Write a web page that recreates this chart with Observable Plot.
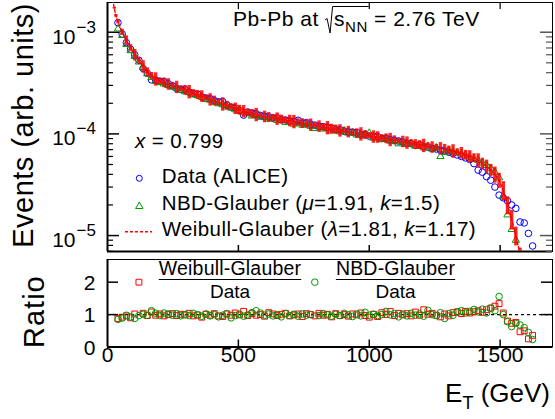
<!DOCTYPE html>
<html><head><meta charset="utf-8">
<script src="https://cdn.jsdelivr.net/npm/d3@7"></script>
<script src="https://cdn.jsdelivr.net/npm/@observablehq/plot@0.6"></script>
<style>
body{margin:0;background:#fff;}
#chart{position:relative;width:555px;height:419px;overflow:hidden;font-family:"Liberation Sans",Arial,sans-serif;}
#chart svg{position:absolute;left:0;}
</style></head><body><div id="chart"></div>
<script>
// ---------- data ----------
const ET = [40,56,72,88,104,120,136,152,168,184,200,216,232,248,264,280,296,312,328,344,360,376,392,408,424,440,456,472,488,504,520,536,552,568,584,600,616,632,648,664,680,696,712,728,744,760,776,792,808,824,840,856,872,888,904,920,936,952,968,984,1000,1016,1032,1048,1064,1080,1096,1112,1128,1144,1160,1176,1192,1208,1224,1240,1256,1272,1288,1304,1320,1336,1352,1368,1384,1400,1416,1432,1448,1464,1480,1496,1512,1528,1544,1560,1576,1592,1608,1624];
const dataALICE = [1.24e-3,9.6e-4,7.9e-4,6.8e-4,6.0e-4,5.3e-4,4.4e-4,3.95e-4,3.40e-4,3.38e-4,3.30e-4,3.26e-4,3.12e-4,2.95e-4,2.80e-4,2.74e-4,2.73e-4,2.58e-4,2.50e-4,2.46e-4,2.31e-4,2.25e-4,2.22e-4,2.13e-4,2.07e-4,2.08e-4,1.93e-4,1.83e-4,1.80e-4,1.70e-4,1.53e-4,1.64e-4,1.60e-4,1.58e-4,1.52e-4,1.49e-4,1.47e-4,1.43e-4,1.44e-4,1.38e-4,1.37e-4,1.34e-4,1.33e-4,1.36e-4,1.28e-4,1.29e-4,1.24e-4,1.22e-4,1.19e-4,1.18e-4,1.16e-4,1.14e-4,1.10e-4,1.10e-4,1.06e-4,1.05e-4,1.04e-4,1.03e-4,9.8e-5,9.9e-5,9.5e-5,9.5e-5,9.4e-5,9.0e-5,9.1e-5,8.8e-5,8.6e-5,8.5e-5,8.3e-5,8.1e-5,8.0e-5,7.7e-5,7.8e-5,7.5e-5,7.4e-5,7.2e-5,7.1e-5,6.9e-5,6.8e-5,6.6e-5,6.4e-5,6.2e-5,6.0e-5,5.8e-5,5.6e-5,5.1e-5,4.4e-5,4.2e-5,3.8e-5,3.5e-5,3.0e-5,2.5e-5,2.35e-5,2.2e-5,2.0e-5,1.85e-5,1.36e-5,1.33e-5,1.05e-5,7.9e-6];
const nbdGlauber = [1.08e-3,9.3e-4,7.6e-4,6.6e-4,5.8e-4,5.1e-4,4.5e-4,3.9e-4,3.6e-4,3.3e-4,3.2e-4,3.1e-4,3.0e-4,2.9e-4,2.82e-4,2.70e-4,2.60e-4,2.55e-4,2.42e-4,2.38e-4,2.30e-4,2.18e-4,2.15e-4,2.05e-4,1.98e-4,1.94e-4,1.85e-4,1.80e-4,1.73e-4,1.70e-4,1.62e-4,1.58e-4,1.50e-4,1.52e-4,1.46e-4,1.45e-4,1.40e-4,1.42e-4,1.36e-4,1.38e-4,1.30e-4,1.32e-4,1.25e-4,1.28e-4,1.22e-4,1.25e-4,1.19e-4,1.13e-4,1.17e-4,1.12e-4,1.13e-4,1.07e-4,1.10e-4,1.05e-4,1.08e-4,1.02e-4,1.03e-4,9.8e-5,9.9e-5,9.6e-5,1.02e-4,9.1e-5,9.2e-5,8.8e-5,8.9e-5,8.5e-5,8.6e-5,8.0e-5,8.3e-5,7.9e-5,8.1e-5,7.6e-5,7.8e-5,7.3e-5,7.6e-5,7.1e-5,7.3e-5,6.0e-5,6.6e-5,6.9e-5,6.7e-5,6.5e-5,6.4e-5,6.2e-5,5.9e-5,5.7e-5,5.5e-5,5.2e-5,4.9e-5,4.6e-5,4.2e-5,3.7e-5,2.4e-5,1.6e-5,1.15e-5,9.0e-6,6.5e-6];
const weibullET = [20,26,32,40,56,72,88,104,120,136,152,168,184,200,216,232,248,264,280,296,312,328,344,360,376,392,408,424,440,456,472,488,504,520,536,552,568,584,600,616,632,648,664,680,696,712,728,744,760,776,792,808,824,840,856,872,888,904,920,936,952,968,984,1000,1016,1032,1048,1064,1080,1096,1112,1128,1144,1160,1176,1192,1208,1224,1240,1256,1272,1288,1304,1320,1336,1352,1368,1384,1400,1416,1432,1448,1464,1480,1496,1512,1528,1544,1560,1576,1584];
const weibullGlauber = [2.1e-3,1.72e-3,1.45e-3,1.27e-3,1.0e-3,8.3e-4,7.0e-4,6.0e-4,5.25e-4,4.6e-4,4.05e-4,3.72e-4,3.47e-4,3.30e-4,3.20e-4,3.09e-4,2.98e-4,2.89e-4,2.78e-4,2.70e-4,2.60e-4,2.52e-4,2.42e-4,2.35e-4,2.26e-4,2.18e-4,2.12e-4,2.04e-4,1.97e-4,1.90e-4,1.84e-4,1.78e-4,1.72e-4,1.67e-4,1.62e-4,1.58e-4,1.55e-4,1.51e-4,1.48e-4,1.46e-4,1.44e-4,1.41e-4,1.39e-4,1.36e-4,1.35e-4,1.32e-4,1.30e-4,1.27e-4,1.26e-4,1.23e-4,1.21e-4,1.19e-4,1.16e-4,1.15e-4,1.12e-4,1.11e-4,1.08e-4,1.07e-4,1.05e-4,1.03e-4,1.01e-4,1.00e-4,9.8e-5,9.6e-5,9.4e-5,9.3e-5,9.1e-5,9.0e-5,8.8e-5,8.7e-5,8.5e-5,8.4e-5,8.2e-5,8.1e-5,7.9e-5,7.8e-5,7.7e-5,7.6e-5,7.4e-5,7.3e-5,7.2e-5,7.1e-5,6.9e-5,6.8e-5,6.6e-5,6.5e-5,6.2e-5,6.0e-5,5.8e-5,5.5e-5,5.1e-5,4.8e-5,4.4e-5,4.0e-5,3.5e-5,2.8e-5,2.0e-5,1.45e-5,1.0e-5,6.6e-6,5.2e-6];
const weibullErr = [0.02,0.02,0.03,0.05,0.07,0.11,0.08,0.13,0.07,0.14,0.10,0.08,0.15,0.07,0.11,0.13,0.08,0.14,0.07,0.11,0.15,0.08,0.10,0.13,0.07,0.14,0.11,0.08,0.15,0.10,0.07,0.13,0.11,0.14,0.08,0.10,0.15,0.07,0.13,0.11,0.08,0.14,0.10,0.07,0.13,0.15,0.08,0.11,0.10,0.14,0.07,0.13,0.08,0.15,0.11,0.10,0.14,0.07,0.13,0.08,0.11,0.15,0.10,0.07,0.14,0.13,0.08,0.11,0.15,0.10,0.07,0.13,0.14,0.08,0.11,0.10,0.15,0.07,0.13,0.08,0.14,0.11,0.10,0.15,0.08,0.13,0.11,0.14,0.10,0.16,0.13,0.15,0.14,0.18,0.17,0.21,0.20,0.22,0.21,0.14,0.08];
const ratioWeibull = [0.88,0.92,0.96,0.90,1.02,2.00,1.04,0.97,1.08,0.98,1.02,0.96,1.00,1.03,0.97,1.01,0.99,1.04,0.96,0.99,0.92,1.01,0.98,1.03,0.96,0.94,1.02,0.98,1.05,0.99,1.10,0.97,1.03,0.98,1.00,0.95,1.06,1.02,0.97,1.01,1.04,0.96,0.99,1.02,0.94,1.03,1.00,0.96,1.04,0.98,1.01,0.93,1.03,0.97,1.00,0.95,1.02,0.99,1.05,0.97,0.92,1.01,0.94,1.06,1.00,1.10,0.97,1.04,0.99,1.03,0.96,1.08,0.98,1.15,1.01,1.04,0.98,0.93,1.02,0.96,1.06,1.08,1.03,1.10,1.05,1.09,1.12,1.07,1.15,1.20,1.26,1.34,1.05,0.80,0.73,0.76,0.47,0.50,0.25,0.36];
const ratioNBD = [0.85,0.89,0.98,0.93,0.88,0.97,1.01,0.98,1.12,1.04,0.97,1.05,1.02,0.98,1.03,0.96,1.00,0.97,1.04,0.99,0.95,1.02,0.96,1.00,0.93,0.98,1.03,0.90,0.97,1.01,0.95,0.99,1.06,1.12,1.05,0.98,1.02,0.96,1.00,0.93,1.03,0.97,1.01,0.95,1.02,0.98,1.00,2.00,0.97,1.03,0.99,0.95,1.01,0.97,1.04,0.99,0.94,1.02,0.96,1.07,0.98,1.01,0.97,1.00,1.10,0.99,1.03,0.93,1.01,0.96,1.04,0.98,1.02,0.95,1.13,1.00,0.97,1.06,0.88,1.03,0.98,1.09,1.12,1.05,1.10,1.16,1.08,1.17,1.05,1.20,1.12,1.56,1.00,0.78,0.63,0.73,0.68,0.60,0.45,0.23];
const decadeTicks = [1e-3,1e-4,1e-5];
const decadeExp = ["\u22123","\u22124","\u22125"];
const xTicks = [0,500,1000,1500];
const ratioTicks = [0,1,2];

// ---------- layout ----------
const FONT = "Liberation Sans, Arial, sans-serif";
const W = 555, ML = 107, MR = 3;
const PW = W - ML - MR;
const topH = 256, topMT = 2, topMB = 5, topPH = topH - topMT - topMB;
const botTop = 254, botH = 165, botMT = 5, botMB = 72.5, botPH = botH - botMT - botMB;
const yDomTop = [6.97e-6, 1.96e-3];
const minorTicks = [];
for (const d of [1e-6,1e-5,1e-4,1e-3]) for (let m = 2; m <= 9; m++) { const v = d*m; if (v > yDomTop[0] && v < yDomTop[1]) minorTicks.push(v); }

const BLUE = "#0000ff", GREEN = "#009a00", RED = "#ff0000";

const dataRows = ET.map((e,i) => ({e, v: dataALICE[i]}));
const nbdRows = nbdGlauber.map((v,i) => ({e: ET[i], v}));
const wRows = weibullET.map((e,i) => ({e, v: weibullGlauber[i], err: weibullErr[i]}));
const rwRows = ET.map((e,i) => ({e, r: ratioWeibull[i]}));
const rnRows = ET.map((e,i) => ({e, r: ratioNBD[i]}));

const topPlot = Plot.plot({
  width: W, height: topH,
  marginLeft: ML, marginRight: MR, marginTop: topMT, marginBottom: topMB,
  style: {background: "transparent", fontFamily: FONT, overflow: "visible"},
  x: {domain: [0, 1700], axis: null},
  y: {type: "log", domain: yDomTop, axis: null},
  marks: [
    Plot.frame({stroke: "black", strokeWidth: 1}),
    Plot.ruleX([0], {stroke: "black", strokeWidth: 2}),
    Plot.ruleY([yDomTop[0]], {stroke: "black", strokeWidth: 2}),
    Plot.tickY(decadeTicks, {y: d => d, insetRight: PW - 12, strokeWidth: 1.5}),
    Plot.tickY(minorTicks, {y: d => d, insetRight: PW - 6, strokeWidth: 1.2}),
    Plot.tickY(decadeTicks, {y: d => d, insetLeft: PW - 12, strokeWidth: 1.5, stroke: "#555"}),
    Plot.tickY(minorTicks, {y: d => d, insetLeft: PW - 6, strokeWidth: 1.2, stroke: "#555"}),
    Plot.tickX(xTicks.slice(1), {x: d => d, insetBottom: topPH - 7, strokeWidth: 1.2}),
    Plot.tickX(xTicks.slice(1), {x: d => d, insetTop: topPH - 6, strokeWidth: 1.5}),
    Plot.dot(dataRows, {x: "e", y: "v", r: 3.3, stroke: BLUE, strokeWidth: 1, fill: "none", clip: true}),
    Plot.dot(nbdRows, {x: "e", y: "v", symbol: "triangle", r: 2.7, stroke: GREEN, strokeWidth: 1, fill: "none", clip: true}),
    Plot.ruleX(wRows, {x: "e", y1: d => d.v * (1 - d.err), y2: d => d.v * (1 + d.err), stroke: RED, strokeWidth: 3.4, strokeOpacity: 0.85, clip: true}),
    Plot.line(wRows, {x: "e", y: "v", stroke: RED, strokeWidth: 1.4, strokeDasharray: "3,2", clip: true}),
    Plot.text(decadeTicks, {y: d => d, text: () => "10", frameAnchor: "left", textAnchor: "end", dx: -32, dy: 4.6, fontSize: 21, fill: "black"}),
    Plot.text(decadeTicks, {y: d => d, text: (d, i) => decadeExp[i], frameAnchor: "left", textAnchor: "start", dx: -31, dy: -5, fontSize: 17, fill: "black"})
  ]
});

const botPlot = Plot.plot({
  width: W, height: botH,
  marginLeft: ML, marginRight: MR, marginTop: botMT, marginBottom: botMB,
  style: {background: "transparent", fontFamily: FONT, overflow: "visible"},
  x: {domain: [0, 1700], axis: null},
  y: {domain: [0, 2.7], axis: null},
  marks: [
    Plot.frame({stroke: "black", strokeWidth: 1}),
    Plot.ruleX([0], {stroke: "black", strokeWidth: 2}),
    Plot.ruleY([0], {stroke: "black", strokeWidth: 2}),
    Plot.ruleY([1], {stroke: "black", strokeWidth: 1.2, strokeDasharray: "3,3"}),
    Plot.tickY(ratioTicks.slice(1), {y: d => d, insetRight: PW - 11, strokeWidth: 1.5}),
    Plot.tickY(ratioTicks.slice(1), {y: d => d, insetLeft: PW - 11, strokeWidth: 1.5}),
    Plot.tickX(xTicks.slice(1), {x: d => d, insetTop: botPH - 7, strokeWidth: 1.5}),
    Plot.dot(rwRows, {x: "e", y: "r", symbol: "square", r: 3.3, stroke: RED, strokeWidth: 1, fill: "none", clip: true}),
    Plot.dot(rnRows, {x: "e", y: "r", r: 3.3, stroke: GREEN, strokeWidth: 1, fill: "none", clip: true}),
    Plot.text(ratioTicks, {y: d => d, text: d => String(d), frameAnchor: "left", textAnchor: "end", dx: -12, dy: 1, fontSize: 21, fill: "black"}),
    Plot.text(xTicks, {x: d => d, text: d => String(d), frameAnchor: "bottom", dy: 15, fontSize: 21, fill: "black"})
  ]
});

const chart = document.getElementById("chart");
topPlot.style.top = "0px";
botPlot.style.top = botTop + "px";
chart.appendChild(topPlot);
chart.appendChild(botPlot);

// ---------- annotations overlay ----------
const ov = d3.select(chart).append("svg")
  .attr("width", W).attr("height", 419)
  .style("top", "0px").style("pointer-events", "none")
  .attr("font-family", FONT);

// axis titles
ov.append("text").attr("transform", "translate(33,3) rotate(-90)")
  .attr("text-anchor", "end").attr("font-size", 29).attr("letter-spacing", 0.5)
  .text("Events (arb. units)");
ov.append("text").attr("transform", "translate(44,348) rotate(-90)")
  .attr("text-anchor", "start").attr("font-size", 29).attr("letter-spacing", 1)
  .text("Ratio");
const xl = ov.append("text").attr("x", 550).attr("y", 402).attr("text-anchor", "end").attr("font-size", 26);
xl.append("tspan").text("E");
xl.append("tspan").attr("font-size", 18).attr("dy", 7).text("T");
xl.append("tspan").attr("dy", -7).text(" (GeV)");

// title with square root
const title = ov.append("text").attr("x", 233).attr("y", 26).attr("font-size", 21).attr("letter-spacing", 0.5);
const t1 = "Pb-Pb at ";
title.append("tspan").text(t1);
title.append("tspan").attr("dx", 9).text("s");
title.append("tspan").attr("font-size", 15).attr("dy", 6).text("NN");
title.append("tspan").attr("dy", -6).text(" = 2.76 TeV");
{
  const node = title.node();
  const sx = node.getStartPositionOfChar(t1.length).x;
  const ne = node.getEndPositionOfChar(t1.length + 2).x;
  ov.append("path")
    .attr("d", `M${sx-9},20 L${sx-7},18.5 L${sx-4},33 L${sx-1.5},6.5 L${ne+1},6.5`)
    .attr("fill", "none").attr("stroke", "black").attr("stroke-width", 1);
}

// x = 0.799
const xv = ov.append("text").attr("x", 135).attr("y", 148.3).attr("font-size", 20.5).attr("letter-spacing", 0.4);
xv.append("tspan").attr("font-style", "italic").text("x");
xv.append("tspan").text(" = 0.799");

// legend
const LFS = 20.5, LLS = 0.4;
ov.append("circle").attr("cx", 139.3).attr("cy", 178.3).attr("r", 3).attr("fill", "none").attr("stroke", BLUE).attr("stroke-width", 1);
ov.append("path").attr("d", "M139.3,202 L143,208.5 L135.6,208.5 Z").attr("fill", "none").attr("stroke", GREEN).attr("stroke-width", 1);
ov.append("line").attr("x1", 125).attr("x2", 152).attr("y1", 231.7).attr("y2", 231.7).attr("stroke", RED).attr("stroke-width", 1.4).attr("stroke-dasharray", "3,2");
ov.append("text").attr("x", 161.7).attr("y", 183.3).attr("font-size", LFS).attr("letter-spacing", LLS).text("Data (ALICE)");
const lg2 = ov.append("text").attr("x", 161.7).attr("y", 209.5).attr("font-size", LFS).attr("letter-spacing", LLS);
lg2.append("tspan").text("NBD-Glauber (");
lg2.append("tspan").attr("font-style", "italic").text("\u03bc");
lg2.append("tspan").text("=1.91, ");
lg2.append("tspan").attr("font-style", "italic").text("k");
lg2.append("tspan").text("=1.5)");
const lg3 = ov.append("text").attr("x", 161.7).attr("y", 236).attr("font-size", LFS).attr("letter-spacing", LLS);
lg3.append("tspan").text("Weibull-Glauber (");
lg3.append("tspan").attr("font-style", "italic").text("\u03bb");
lg3.append("tspan").text("=1.81, ");
lg3.append("tspan").attr("font-style", "italic").text("k");
lg3.append("tspan").text("=1.17)");

// fractions in ratio panel
function fraction(cx, num) {
  const n = ov.append("text").attr("x", cx).attr("y", 275).attr("text-anchor", "middle").attr("font-size", 19.5).attr("letter-spacing", 0.2).text(num);
  const w = n.node().getComputedTextLength();
  ov.append("line").attr("x1", cx - w/2).attr("x2", cx + w/2).attr("y1", 279.5).attr("y2", 279.5).attr("stroke", "black").attr("stroke-width", 1.2);
  ov.append("text").attr("x", cx).attr("y", 297.5).attr("text-anchor", "middle").attr("font-size", 19).text("Data");
}
fraction(230, "Weibull-Glauber");
fraction(395.5, "NBD-Glauber");
</script></body></html>
